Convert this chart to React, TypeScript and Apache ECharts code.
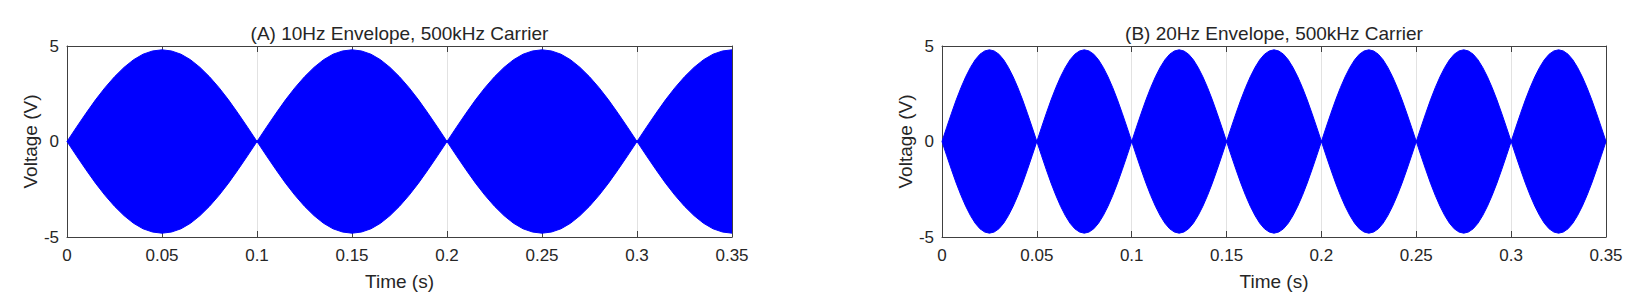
import React, { useEffect, useRef } from "react";
import * as echarts from "echarts";

// Panel A: 10 Hz envelope, samples every 0.005 s (upper envelope, V)
const timeStepA = 0.005;
const envelopeA = [
  0, 0.75, 1.48, 2.18, 2.82, 3.39, 3.88, 4.28, 4.57, 4.74, 4.8, 4.74, 4.57, 4.28, 3.88, 3.39, 2.82, 2.18, 1.48, 0.75,
  0, 0.75, 1.48, 2.18, 2.82, 3.39, 3.88, 4.28, 4.57, 4.74, 4.8, 4.74, 4.57, 4.28, 3.88, 3.39, 2.82, 2.18, 1.48, 0.75,
  0, 0.75, 1.48, 2.18, 2.82, 3.39, 3.88, 4.28, 4.57, 4.74, 4.8, 4.74, 4.57, 4.28, 3.88, 3.39, 2.82, 2.18, 1.48, 0.75,
  0, 0.75, 1.48, 2.18, 2.82, 3.39, 3.88, 4.28, 4.57, 4.74, 4.8,
];

// Panel B: 20 Hz envelope, samples every 0.0025 s (upper envelope, V)
const timeStepB = 0.0025;
const envelopeB = [
  0, 0.75, 1.48, 2.18, 2.82, 3.39, 3.88, 4.28, 4.57, 4.74, 4.8, 4.74, 4.57, 4.28, 3.88, 3.39, 2.82, 2.18, 1.48, 0.75,
  0, 0.75, 1.48, 2.18, 2.82, 3.39, 3.88, 4.28, 4.57, 4.74, 4.8, 4.74, 4.57, 4.28, 3.88, 3.39, 2.82, 2.18, 1.48, 0.75,
  0, 0.75, 1.48, 2.18, 2.82, 3.39, 3.88, 4.28, 4.57, 4.74, 4.8, 4.74, 4.57, 4.28, 3.88, 3.39, 2.82, 2.18, 1.48, 0.75,
  0, 0.75, 1.48, 2.18, 2.82, 3.39, 3.88, 4.28, 4.57, 4.74, 4.8, 4.74, 4.57, 4.28, 3.88, 3.39, 2.82, 2.18, 1.48, 0.75,
  0, 0.75, 1.48, 2.18, 2.82, 3.39, 3.88, 4.28, 4.57, 4.74, 4.8, 4.74, 4.57, 4.28, 3.88, 3.39, 2.82, 2.18, 1.48, 0.75,
  0, 0.75, 1.48, 2.18, 2.82, 3.39, 3.88, 4.28, 4.57, 4.74, 4.8, 4.74, 4.57, 4.28, 3.88, 3.39, 2.82, 2.18, 1.48, 0.75,
  0, 0.75, 1.48, 2.18, 2.82, 3.39, 3.88, 4.28, 4.57, 4.74, 4.8, 4.74, 4.57, 4.28, 3.88, 3.39, 2.82, 2.18, 1.48, 0.75,
  0,
];

const titles = ["(A) 10Hz Envelope, 500kHz Carrier", "(B) 20Hz Envelope, 500kHz Carrier"];
const xTickLabels = ["0", "0.05", "0.1", "0.15", "0.2", "0.25", "0.3", "0.35"];
const yTickLabels = ["-5", "0", "5"];
const xLabel = "Time (s)";
const yLabel = "Voltage (V)";

const FONT = '"Liberation Sans", Arial, Helvetica, sans-serif';
const TEXT = "#262626";
const AXIS = "#404040";
const BLUE = "#0000ff";

export default function App() {
  const ref = useRef<HTMLDivElement>(null);

  useEffect(() => {
    if (!ref.current) return;
    const chart = echarts.init(ref.current, undefined, { renderer: "svg" });

    const grids = [
      { left: 67, top: 46, width: 665, height: 191 },
      { left: 942, top: 46, width: 664, height: 191 },
    ];

    const xAxes: any[] = [];
    const yAxes: any[] = [];
    grids.forEach((_, gi) => {
      xAxes.push({
        type: "value",
        gridIndex: gi,
        position: "bottom",
        min: 0,
        max: 0.35,
        interval: 0.05,
        name: xLabel,
        nameLocation: "middle",
        nameGap: 35,
        nameTextStyle: { fontSize: 19, color: TEXT, fontFamily: FONT },
        axisLine: { show: true, onZero: false, lineStyle: { color: AXIS, width: 1 } },
        axisTick: { show: true, inside: true, length: 6, lineStyle: { color: AXIS } },
        axisLabel: {
          fontSize: 17,
          color: TEXT,
          fontFamily: FONT,
          margin: 10,
          formatter: (v: number) => xTickLabels[Math.round(v / 0.05)] ?? "",
        },
        splitLine: { show: true, lineStyle: { color: "#e2e2e2", width: 1 } },
      });
      xAxes.push({
        type: "value",
        gridIndex: gi,
        position: "top",
        min: 0,
        max: 0.35,
        interval: 0.05,
        axisLine: { show: true, onZero: false, lineStyle: { color: AXIS, width: 1 } },
        axisTick: { show: true, inside: true, length: 6, lineStyle: { color: AXIS } },
        axisLabel: { show: false },
        splitLine: { show: false },
      });
      yAxes.push({
        type: "value",
        gridIndex: gi,
        position: "left",
        min: -5,
        max: 5,
        interval: 5,
        name: yLabel,
        nameLocation: "middle",
        nameGap: 26,
        nameTextStyle: { fontSize: 19, color: TEXT, fontFamily: FONT },
        axisLine: { show: true, onZero: false, lineStyle: { color: AXIS, width: 1 } },
        axisTick: { show: true, inside: true, length: 6, lineStyle: { color: AXIS } },
        axisLabel: {
          fontSize: 17,
          color: TEXT,
          fontFamily: FONT,
          margin: 8,
          formatter: (v: number) => yTickLabels[Math.round(v / 5) + 1] ?? "",
        },
        splitLine: { show: false },
      });
      yAxes.push({
        type: "value",
        gridIndex: gi,
        position: "right",
        min: -5,
        max: 5,
        interval: 5,
        axisLine: { show: true, onZero: false, lineStyle: { color: AXIS, width: 1 } },
        axisTick: { show: true, inside: true, length: 6, lineStyle: { color: AXIS } },
        axisLabel: { show: false },
        splitLine: { show: false },
      });
    });

    const panels = [
      { step: timeStepA, env: envelopeA },
      { step: timeStepB, env: envelopeB },
    ];

    const series: any[] = [];
    panels.forEach((p, gi) => {
      const upper = p.env.map((v, i) => [i * p.step, v]);
      const lower = p.env.map((v, i) => [i * p.step, -v]);
      // the two fills overlap by a hair at 0 V so no seam shows
      [
        { data: upper, origin: -0.06 },
        { data: lower, origin: 0.06 },
      ].forEach((s) => {
        series.push({
          type: "line",
          xAxisIndex: gi * 2,
          yAxisIndex: gi * 2,
          data: s.data,
          symbol: "none",
          smooth: false,
          silent: true,
          lineStyle: { color: BLUE, width: 1 },
          areaStyle: { color: BLUE, opacity: 1, origin: s.origin },
          z: 3,
        });
      });
    });

    const graphic = grids.map((g, gi) => ({
      type: "text",
      x: g.left + g.width / 2,
      y: 33,
      style: {
        text: titles[gi],
        font: `19px ${FONT}`,
        fill: TEXT,
        align: "center",
        verticalAlign: "middle",
      },
    }));

    chart.setOption({
      animation: false,
      backgroundColor: "#ffffff",
      grid: grids,
      xAxis: xAxes,
      yAxis: yAxes,
      series,
      graphic,
    });

    return () => chart.dispose();
  }, []);

  return (
    <div
      ref={ref}
      style={{ position: "fixed", left: 0, top: 0, width: 1647, height: 308, background: "#fff" }}
    />
  );
}
